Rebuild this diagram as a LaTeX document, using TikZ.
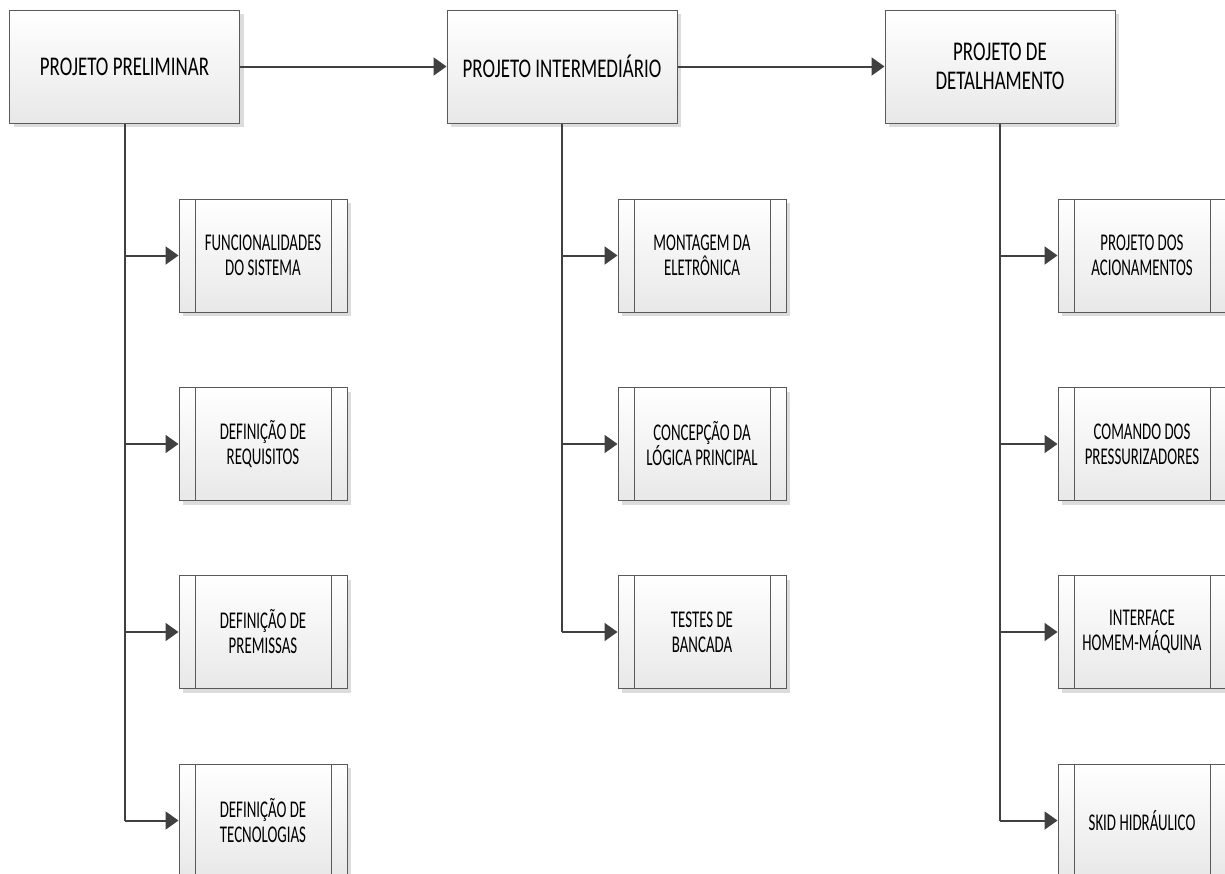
\documentclass[tikz,border=0pt]{standalone}
\usepackage{fontspec}
\setmainfont{Carlito}[FakeStretch=0.7]
\newfontfamily\childfont{Carlito}[FakeStretch=0.62]
\usetikzlibrary{arrows.meta,shadows}
\definecolor{linegray}{HTML}{404040}
\definecolor{boxborder}{HTML}{5A5A5A}
\definecolor{shadowgray}{HTML}{DCDCDC}
\tikzset{
  boxbase/.style={draw=boxborder, line width=1pt, top color=white, bottom color=black!9,
    drop shadow={shadow xshift=4pt, shadow yshift=-4pt, fill=shadowgray, opacity=1},
    align=center, inner sep=0pt},
  phase/.style={boxbase, minimum width=230pt, minimum height=113pt,
    font=\fontsize{27}{29}\selectfont},
  task/.style={boxbase, minimum width=168pt, minimum height=113pt,
    font=\childfont\fontsize{24}{25}\selectfont},
  conn/.style={draw=linegray, line width=2pt},
  arr/.style={conn, -{Triangle[length=13pt,width=18pt]}, shorten >=0pt},
  sideline/.style={draw=boxborder, line width=1pt}
}
\begin{document}
\begin{tikzpicture}[x=1pt,y=-1pt]
\useasboundingbox (0,0) rectangle (1225,873);
\clip (0,0) rectangle (1225,873);
\fill[white] (0,0) rectangle (1225,873);
% phase boxes
\node[phase] (p1) at (124.5,66.5) {PROJETO PRELIMINAR};
\node[phase] (p2) at (562,66.5) {PROJETO INTERMEDIÁRIO};
\node[phase] (p3) at (1000,66.5) {PROJETO DE\\DETALHAMENTO};
% tasks column 1
\node[task] (a1) at (263,255.5) {FUNCIONALIDADES\\DO SISTEMA};
\node[task] (a2) at (263,444) {DEFINIÇÃO DE\\REQUISITOS};
\node[task] (a3) at (263,632) {DEFINIÇÃO DE\\PREMISSAS};
\node[task] (a4) at (263,820.5) {DEFINIÇÃO DE\\TECNOLOGIAS};
% tasks column 2
\node[task] (b1) at (702,255.5) {MONTAGEM DA\\ELETRÔNICA};
\node[task] (b2) at (702,444) {CONCEPÇÃO DA\\LÓGICA PRINCIPAL};
\node[task] (b3) at (702,632) {TESTES DE\\BANCADA};
% tasks column 3
\node[task] (c1) at (1142,255.5) {PROJETO DOS\\ACIONAMENTOS};
\node[task] (c2) at (1142,444) {COMANDO DOS\\PRESSURIZADORES};
\node[task] (c3) at (1142,632) {INTERFACE\\HOMEM-MÁQUINA};
\node[task] (c4) at (1142,820.5) {SKID HIDRÁULICO};
% inner side lines of task boxes
\foreach \n in {a1,a2,a3,a4,b1,b2,b3,c1,c2,c3,c4}{
  \draw[sideline] ([xshift=16.5pt]\n.north west) -- ([xshift=16.5pt]\n.south west);
  \draw[sideline] ([xshift=-16.5pt]\n.north east) -- ([xshift=-16.5pt]\n.south east);
}
% phase arrows
\draw[arr] (p1.east) -- (p2.west);
\draw[arr] (p2.east) -- (p3.west);
% trunk lines
\draw[conn] (p1.south) -- (p1.south |- a4.west);
\draw[conn] (p2.south) -- (p2.south |- b3.west);
\draw[conn] (p3.south) -- (p3.south |- c4.west);
% branch arrows
\foreach \n in {a1,a2,a3,a4}{ \draw[arr] (p1.south |- \n.west) -- (\n.west); }
\foreach \n in {b1,b2,b3}{ \draw[arr] (p2.south |- \n.west) -- (\n.west); }
\foreach \n in {c1,c2,c3,c4}{ \draw[arr] (p3.south |- \n.west) -- (\n.west); }
\end{tikzpicture}
\end{document}
